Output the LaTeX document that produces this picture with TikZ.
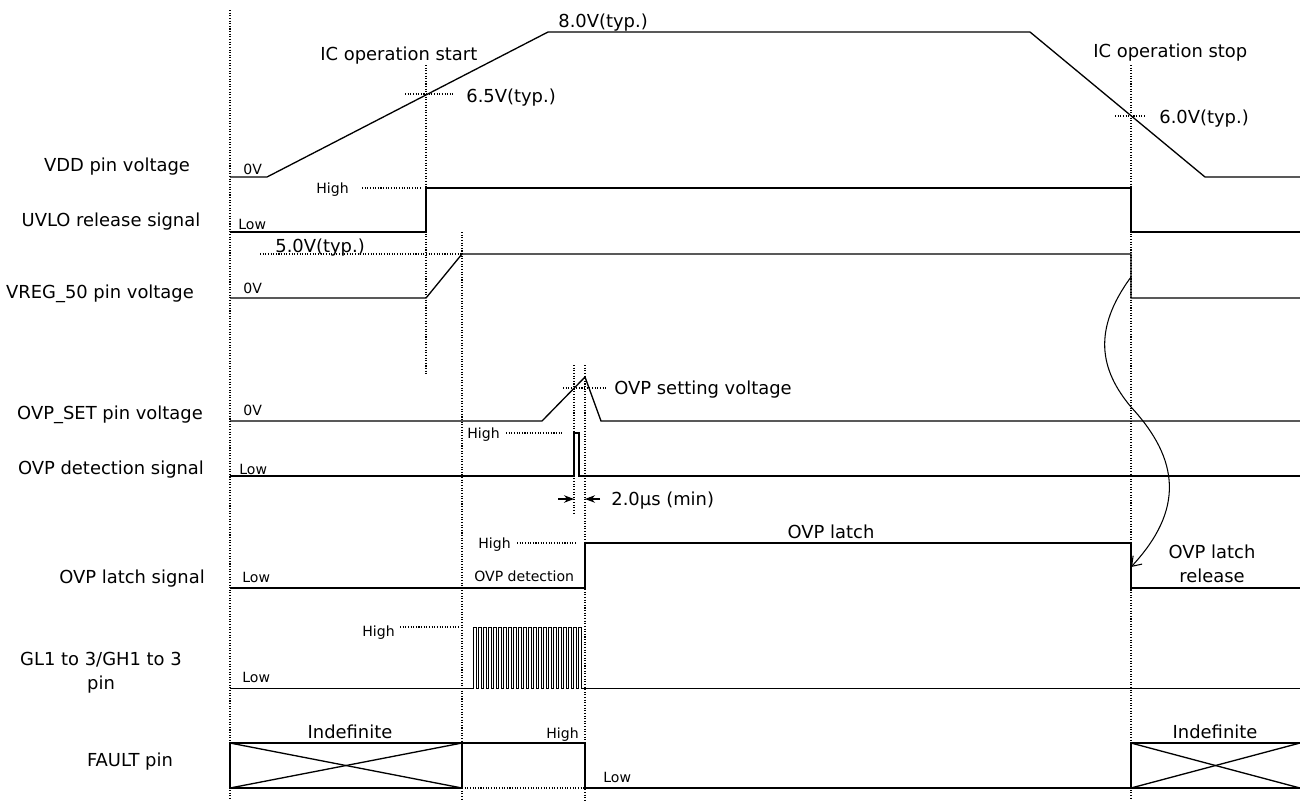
\documentclass[tikz,border=0pt]{standalone}
\usepackage{fontspec}
\setmainfont{DejaVu Sans}
\usetikzlibrary{arrows.meta}

\begin{document}
\begin{tikzpicture}[
  x=0.02cm, y=-0.02cm,
  wave/.style={line width=0.75pt, line join=miter},
  guide/.style={dash pattern=on 0.6pt off 0.9pt, line width=0.65pt},
  sig/.style={inner sep=0pt, font=\fontsize{10.2}{13.6}\selectfont, align=center},
  note/.style={inner sep=0pt, font=\fontsize{10.2}{13.6}\selectfont, align=center},
  lvl/.style={inner sep=0pt, font=\fontsize{8}{9.6}\selectfont},
  >=Stealth
]
  \useasboundingbox (0,0) rectangle (1300,802);

  % signal names
  \node[sig, anchor=base] (nvdd) at (117,171) {VDD pin voltage};
  \node[sig, anchor=base] (nuvlo) at (111,226) {UVLO release signal};
  \node[sig, anchor=base] (nvreg) at (100,298) {VREG\_50 pin voltage};
  \node[sig, anchor=base] (nset) at (110,419) {OVP\_SET pin voltage};
  \node[sig, anchor=base] (ndet) at (111,474) {OVP detection signal};
  \node[sig, anchor=base] (nlatch) at (132,583) {OVP latch signal};
  \node[sig, anchor=north] (ngate) at (101,652) {GL1 to 3/GH1 to 3\\pin};
  \node[sig, anchor=base] (nfault) at (130,766) {FAULT pin};

  % timing guides
  \draw[guide] (230,10) -- (230,800);
  \draw[guide] (426,65) -- (426,375);
  \draw[guide] (462,232) -- (462,800);
  \draw[guide] (574,365) -- (574,515);
  \draw[guide] (585,365) -- (585,800);
  \draw[guide] (1131,65) -- (1131,800);

  % level guides
  \draw[guide] (405,94) -- (455,94);
  \draw[guide] (1115,116) -- (1146,116);
  \draw[guide] (362,188) -- (420,188);
  \draw[guide] (260,254) -- (462,254);
  \draw[guide] (563,388) -- (606,388);
  \draw[guide] (506,433) -- (563,433);
  \draw[guide] (517,543) -- (575,543);
  \draw[guide] (400,627) -- (458,627);
  \draw[guide] (462,788) -- (585,788);

  % waveforms
  \draw[wave] (230,177) -- (267,177) -- (548,32) -- (1030,32) -- (1205,177) -- (1300,177);
  \draw[wave] (230,232) -- (426,232) -- (426,188) -- (1131,188) -- (1131,232) -- (1300,232);
  \draw[wave] (230,298) -- (426,298) -- (462,254) -- (1131,254) -- (1131,298) -- (1300,298);
  \draw[wave] (230,421) -- (542,421) -- (585,377) -- (601,421) -- (1300,421);
  \draw[wave] (230,476) -- (574,476) -- (574,433) -- (579,433) -- (579,476) -- (1300,476);
  \draw[wave] (230,588) -- (585,588) -- (585,543) -- (1131,543) -- (1131,588) -- (1300,588);
  \draw[wave, line width=0.55pt] (230,688) -- (473,688)
    \foreach \k in {0,...,21} { -- ++(0,-61) -- ++(3,0) -- ++(0,61) -- ++(2,0) } -- (1300,688);

  % FAULT pin
  \draw[wave] (230,743) rectangle (462,788);
  \draw[wave] (230,743) -- (462,788);
  \draw[wave] (230,788) -- (462,743);
  \draw[wave] (462,743) -- (585,743) -- (585,788) -- (1131,788);
  \draw[wave] (1300,743) -- (1131,743) -- (1131,788) -- (1300,788);
  \draw[wave] (1131,743) -- (1300,788);
  \draw[wave] (1131,788) -- (1300,743);

  % levels
  \node[note, anchor=base west] (v80) at (558,27) {8.0V(typ.)};
  \node[note, anchor=base west] (icstart) at (320,60) {IC operation start};
  \node[note, anchor=base west] (v65) at (466,102) {6.5V(typ.)};
  \node[note, anchor=base west] (icstop) at (1093,57) {IC operation stop};
  \node[note, anchor=base west] (v60) at (1159,123) {6.0V(typ.)};
  \node[note, anchor=base west] (v50) at (275,252) {5.0V(typ.)};
  \node[note, anchor=base west] (vset) at (614,394) {OVP setting voltage};
  \node[note, anchor=base west] (tmin) at (611,505) {2.0μs (min)};
  \node[note, anchor=base] (latch) at (831,538) {OVP latch};
  \node[note, anchor=north] (release) at (1212,545) {OVP latch\\release};
  \node[note, anchor=base] (indefl) at (350,738) {Indefinite};
  \node[note, anchor=base] (indefr) at (1215,738) {Indefinite};

  \node[lvl, anchor=base west] (zvdd) at (243,174) {0V};
  \node[lvl, anchor=base west] (huvlo) at (316,193) {High};
  \node[lvl, anchor=base west] (luvlo) at (238,229) {Low};
  \node[lvl, anchor=base west] (zvreg) at (243,293) {0V};
  \node[lvl, anchor=base west] (zset) at (243,415) {0V};
  \node[lvl, anchor=base west] (hdet) at (467,438) {High};
  \node[lvl, anchor=base west] (ldet) at (239,474) {Low};
  \node[lvl, anchor=base west] (hlatch) at (478,548) {High};
  \node[lvl, anchor=base west] (llatch) at (242,582) {Low};
  \node[lvl, anchor=base west] (odet) at (474,581) {OVP detection};
  \node[lvl, anchor=base west] (hgate) at (362,636) {High};
  \node[lvl, anchor=base west] (lgate) at (242,682) {Low};
  \node[lvl, anchor=base east] (hfault) at (579,738) {High};
  \node[lvl, anchor=base west] (lfault) at (603,782) {Low};

  % 2.0us width
  \coordinate (dimla) at (558,499);
  \coordinate (dimlb) at (574,499);
  \coordinate (dimra) at (600,499);
  \coordinate (dimrb) at (585,499);
  \draw[->, line width=0.6pt] (dimla) -- (dimlb);
  \draw[->, line width=0.6pt] (dimra) -- (dimrb);

  % latch release
  \coordinate (rela) at (1131,277);
  \coordinate (relb) at (1131,567);
  \draw[-{Straight Barb[length=5pt,width=7pt]}, line width=0.6pt] (rela)
    .. controls (1092,330) and (1100,370) .. (1131,407)
    .. controls (1180,460) and (1184,510) .. (relb);
\end{tikzpicture}
\end{document}
